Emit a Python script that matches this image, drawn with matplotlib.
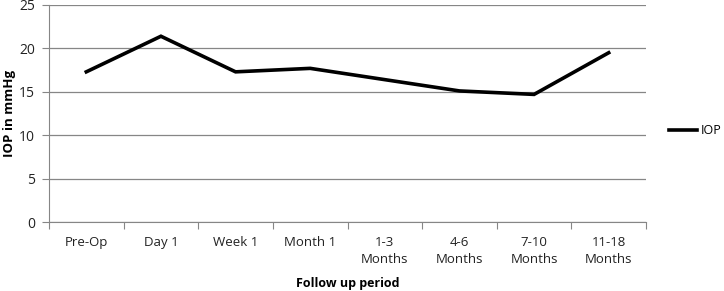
import matplotlib.pyplot as plt
import numpy as np

# datos
periodos = ['Pre-Op', 'Day 1', 'Week 1', 'Month 1', '1-3\nMonths', '4-6\nMonths',
            '7-10\nMonths', '11-18\nMonths']
iop = [17.3, 21.4, 17.3, 17.7, 16.4, 15.1, 14.7, 19.5]
yticks = [0, 5, 10, 15, 20, 25]

plt.rcParams['font.family'] = ['Open Sans', 'DejaVu Sans']

fig = plt.figure(figsize=(7.24, 2.91), dpi=100)
ax = fig.add_axes([49 / 724, 1 - 222 / 291, 597 / 724, 217 / 291])

x = np.arange(len(periodos))
ax.plot(x, iop, color='black', linewidth=2.6, label='IOP', solid_joinstyle='miter')

# ejes
ax.set_xlim(-0.5, len(periodos) - 0.5)
ax.set_ylim(0, 25)
ax.set_yticks(yticks)
ax.set_xticks(x)
ax.set_xticklabels(periodos, fontsize=9.5, color='#222222', linespacing=1.45)
ax.set_xticks(np.arange(-0.5, len(periodos)), minor=True)
ax.tick_params(axis='x', which='major', length=0, pad=10)
ax.tick_params(axis='x', which='minor', length=5, color='#868686', width=0.8)
ax.tick_params(axis='y', length=5, color='#868686', width=0.8, labelsize=10,
               labelcolor='#222222', pad=5)

ax.grid(True, axis='y', color='#868686', linewidth=0.9)
ax.set_axisbelow(True)
for lado in ['top', 'right']:
    ax.spines[lado].set_visible(False)
ax.spines['left'].set_color('#868686')
ax.spines['bottom'].set_color('#868686')

ax.set_xlabel('Follow up period', fontsize=9, fontweight='bold', labelpad=8)
ax.set_ylabel('IOP in mmHg', fontsize=9.5, fontweight='bold')
ax.yaxis.set_label_coords(-0.056, 0.5)

ax.legend(loc='center left', bbox_to_anchor=(1.02, 0.42), frameon=False, fontsize=9,
          handlelength=2.2, handletextpad=0.35)

fig.savefig('out.png', dpi=100)
